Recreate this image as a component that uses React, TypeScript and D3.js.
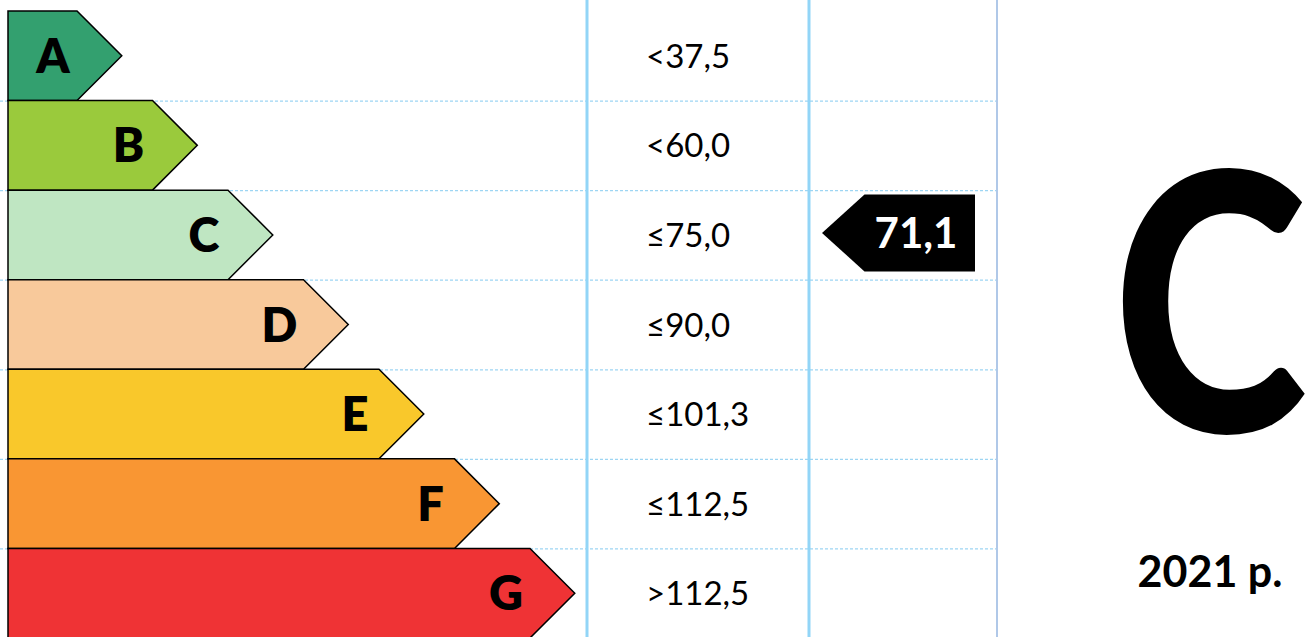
import React from "react";
import * as d3 from "d3";

// ---- data ----
const classes = ["A", "B", "C", "D", "E", "F", "G"];
const barLengths = [1, 2, 3, 4, 5, 6, 7];
const thresholds = ["<37,5", "<60,0", "≤75,0", "≤90,0", "≤101,3", "≤112,5", ">112,5"];
const classColors = ["#33A06F", "#9ACA3C", "#BFE6C2", "#F8C99B", "#F9C82B", "#F99633", "#EF3335"];
const currentValue = "71,1";
const currentClass = "C";
const yearLabel = "2021 p.";

const W = 1309;
const H = 637;
const FONT = "Lato, 'Open Sans', sans-serif";

export default function App() {
  const y = d3.scaleBand<string>().domain(classes).range([11, 638]).padding(0);
  const x = d3.scaleLinear().domain([1, 7]).range([77, 530]);
  const left = 8;
  const head = y.bandwidth() / 2;

  const col1 = 587;
  const col2 = 809;
  const col3 = 997;

  const bars = classes.map((c, i) => {
    const top = y(c)!;
    const bot = top + y.bandwidth();
    const mid = top + head;
    const r = x(barLengths[i]);
    const path = d3.path();
    path.moveTo(left, top);
    path.lineTo(r, top);
    path.lineTo(r + head, mid);
    path.lineTo(r, bot);
    path.lineTo(left, bot);
    path.closePath();
    return { c, i, path: path.toString(), mid, r };
  });

  const gridYs = classes.slice(1).map((c) => y(c)!);

  const cy = y(currentClass)! + head - 2;
  const bh = 38.5;
  const bRight = 975;
  const bTip = 822;
  const badge = d3.path();
  badge.moveTo(bTip, cy);
  badge.lineTo(bTip + bh + 4, cy - bh);
  badge.lineTo(bRight, cy - bh);
  badge.lineTo(bRight, cy + bh);
  badge.lineTo(bTip + bh + 4, cy + bh);
  badge.closePath();

  const bigCx = 1210;

  return (
    <svg
      width={W}
      height={H}
      style={{ position: "absolute", left: 0, top: 0, background: "#fff" }}
      fontFamily={FONT}
    >
      <rect x={0} y={0} width={W} height={H} fill="#fff" />
      {gridYs.map((gy, k) => (
        <line
          key={k}
          x1={0}
          x2={col3}
          y1={gy + 0.5}
          y2={gy + 0.5}
          stroke="#9DD5F3"
          strokeWidth={1.2}
          strokeDasharray="3,2"
        />
      ))}
      <line x1={col1} x2={col1} y1={0} y2={H} stroke="#92D5F7" strokeWidth={3} />
      <line x1={col2} x2={col2} y1={0} y2={H} stroke="#92D5F7" strokeWidth={3} />
      <line x1={col3} x2={col3} y1={0} y2={H} stroke="#B0C8E8" strokeWidth={2} />

      {bars.map((b) => (
        <g key={b.c}>
          <path d={b.path} fill={classColors[b.i]} stroke="#000" strokeWidth={1.5} strokeLinejoin="miter" />
          <text
            x={b.r - 24}
            y={b.mid + 17}
            textAnchor="middle"
            fontSize={47}
            fontWeight={800}
            fill="#000"
          >
            {b.c}
          </text>
          <text x={646} y={b.mid + 12} fontSize={33} fill="#000">
            {thresholds[b.i]}
          </text>
        </g>
      ))}

      <path d={badge.toString()} fill="#000" />
      <text x={916} y={cy + 15} textAnchor="middle" fontSize={42} fontWeight={700} fill="#fff">
        {currentValue}
      </text>

      <text
        x={bigCx}
        y={432}
        textAnchor="middle"
        fontSize={360}
        fontWeight={900}
        fill="#000"
        transform={`translate(${bigCx},0) scale(0.82,1) translate(${-bigCx},0)`}
      >
        {currentClass}
      </text>
      <text x={1210} y={587} textAnchor="middle" fontSize={43} fontWeight={700} fill="#000">
        {yearLabel}
      </text>
    </svg>
  );
}
